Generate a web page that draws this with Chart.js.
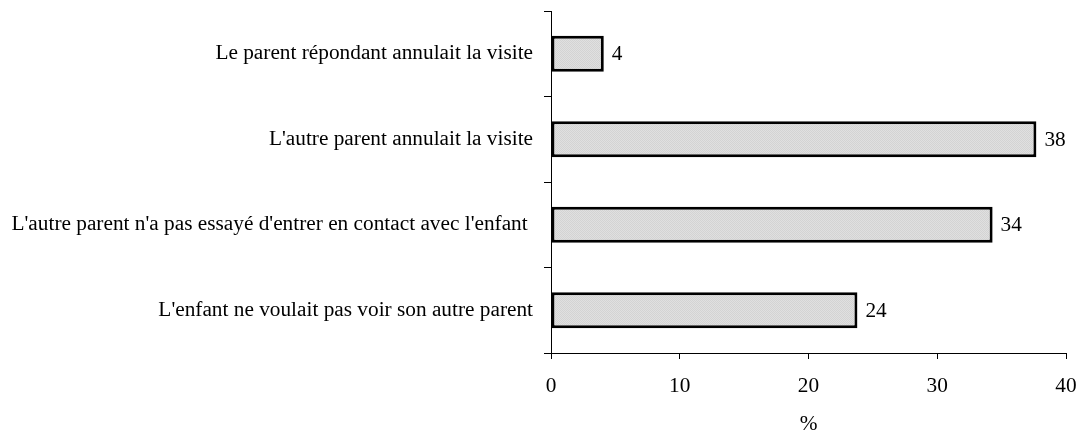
<!doctype html>
<html>

<head>
    <meta charset="utf-8">
    <title>Annulation des visites</title>
    <script src="https://cdn.jsdelivr.net/npm/chart.js"></script>
</head>

<body style="margin:0; background-color:#fff;">

    <div style="width:1079px; height:431px;">
        <canvas id="graphique" width="1079" height="431"></canvas>
    </div>

    <script>

        var categories = [
            'Le parent répondant annulait la visite',
            "L'autre parent annulait la visite",
            "L'autre parent n'a pas essayé d'entrer en contact avec l'enfant ",
            "L'enfant ne voulait pas voir son autre parent"
        ];
        var pourcentages = [4.1, 37.7, 34.3, 23.8];
        var ticksX = [0, 10, 20, 30, 40];

        // petite trame grise pointillée comme dans l'original
        function trame() {
            var c = document.createElement('canvas');
            c.width = 2;
            c.height = 2;
            var ctx = c.getContext('2d');
            ctx.fillStyle = '#e0e0e0';
            ctx.fillRect(0, 0, 2, 2);
            ctx.fillStyle = '#d3d3d3';
            ctx.fillRect(0, 0, 1, 1);
            ctx.fillRect(1, 1, 1, 1);
            return ctx.createPattern(c, 'repeat');
        }

        var famille = '"Liberation Serif", "Times New Roman", serif';
        var taille = 21.3;
        var police = { family: famille, size: taille };

        var etiquettes = {
            id: 'etiquettes',
            afterDatasetsDraw: function (chart) {
                var ctx = chart.ctx;
                ctx.save();
                ctx.font = taille + 'px ' + famille;
                ctx.fillStyle = '#000';
                ctx.textAlign = 'left';
                ctx.textBaseline = 'middle';
                chart.getDatasetMeta(0).data.forEach(function (barre, i) {
                    ctx.fillText(Math.round(pourcentages[i]), barre.x + 8, barre.y + 1);
                });
                ctx.restore();
            }
        };

        var graphique = new Chart(document.getElementById('graphique').getContext('2d'), {
            type: 'bar',
            data: {
                labels: categories,
                datasets: [{
                    data: pourcentages,
                    backgroundColor: trame(),
                    borderColor: '#000',
                    borderWidth: 3,
                    borderSkipped: false,
                    categoryPercentage: 1,
                    barPercentage: 0.42
                }]
            },
            plugins: [etiquettes],
            options: {
                indexAxis: 'y',
                responsive: false,
                animation: false,
                layout: {
                    padding: { left: 0, right: 13, top: 11, bottom: 0 }
                },
                plugins: {
                    legend: { display: false },
                    tooltip: { enabled: false }
                },
                scales: {
                    x: {
                        min: 0,
                        max: 40,
                        afterBuildTicks: function (s) {
                            s.ticks = ticksX.map(function (v) { return { value: v }; });
                        },
                        afterFit: function (s) {
                            s.height = 78;
                            s.paddingLeft = 0;
                            s.paddingRight = 0;
                        },
                        grid: {
                            drawOnChartArea: false,
                            drawTicks: true,
                            tickLength: 6,
                            color: '#000'
                        },
                        border: { color: '#000', width: 1 },
                        ticks: {
                            color: '#000',
                            padding: 15,
                            maxRotation: 0,
                            font: police
                        },
                        title: {
                            display: true,
                            text: '%',
                            color: '#000',
                            padding: { top: 0, bottom: -4 },
                            font: { family: famille, size: taille, lineHeight: 1 }
                        }
                    },
                    y: {
                        afterFit: function (s) {
                            s.width = 551;
                            s.paddingTop = 0;
                            s.paddingBottom = 0;
                        },
                        grid: {
                            offset: true,
                            drawOnChartArea: false,
                            drawTicks: true,
                            tickLength: 7,
                            color: '#000'
                        },
                        border: { color: '#000', width: 1 },
                        ticks: {
                            color: '#000',
                            padding: 11,
                            autoSkip: false,
                            font: police
                        }
                    }
                }
            }
        });

    </script>
</body>

</html>
